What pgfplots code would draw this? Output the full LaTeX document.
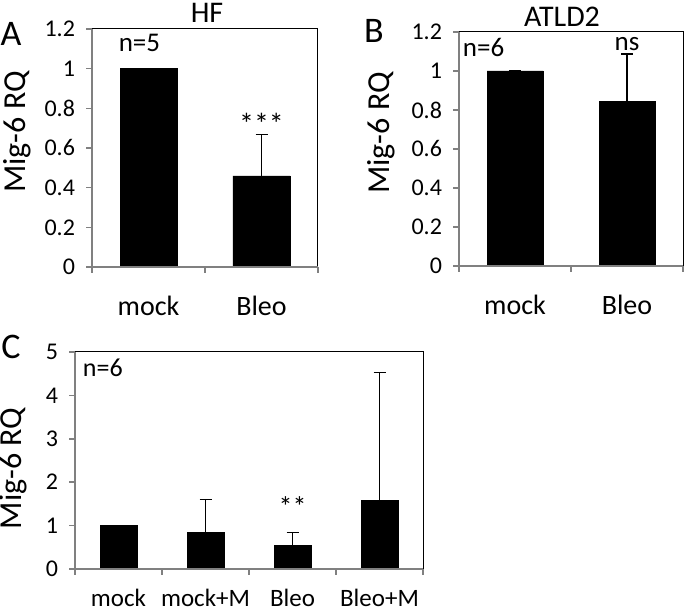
\documentclass[border=0pt]{standalone}
\usepackage{pgfplots}
\pgfplotsset{compat=1.18}
\usepackage{fontspec}
\setmainfont{Carlito}
\definecolor{axgray}{HTML}{808080}
\begin{document}
\begin{tikzpicture}
\useasboundingbox (0,0) rectangle (342.5pt,304pt);
\pgfplotsset{
  panel/.style={
    scale only axis,
    axis line style={black, line width=0.5pt},
    ymin=0,
    ybar, bar shift=0pt,
    tick align=outside,
    xtick pos=bottom, ytick pos=left,
    major tick length=3pt,
    tick style={axgray, line width=0.8pt},
    /pgf/number format/assume math mode=true,
    yticklabel style={font=\fontsize{12}{14}\selectfont, xshift=-2pt},
    extra x tick style={major tick length=0pt, tick style={draw=none}},
    ylabel=Mig-6 RQ,
    ylabel style={font=\fontsize{16}{18}\selectfont, at={(rel axis cs:0,0.5)}, anchor=center},
    error bars/error bar style={black, line width=0.6pt},
    error bars/error mark options={black, line width=0.6pt, mark size=3pt, rotate=90},
    clip=false,
  },
  grayaxes/.style={
    after end axis/.code={
      \draw[axgray, line width=0.9pt] (rel axis cs:0,1) -- (rel axis cs:0,0) -- (rel axis cs:1,0);
    }
  }
}
% Panel A
\begin{axis}[panel, grayaxes, at={(46pt,170.5pt)}, anchor=south west,
  width=113pt, height=119pt,
  ymax=1.2, ytick={0,0.2,0.4,0.6,0.8,1,1.2},
  yticklabels={0,0.2,0.4,0.6,0.8,1,1.2},
  xmin=-0.5, xmax=1.5, xtick={-0.5,0.5,1.5}, xticklabels={,,},
  extra x ticks={0,1}, extra x tick labels={mock,Bleo},
  xticklabel style={font=\fontsize{14}{16}\selectfont, yshift=-11pt},
  bar width=28.5pt,
  ylabel style={yshift=37.5pt, xshift=8pt}]
\addplot[fill=black, draw=black, error bars/.cd, y dir=plus, y explicit]
  coordinates {(0,1) +- (0,0) (1,0.459) +- (0,0.208)};
\node[font=\fontsize{13.5}{15}\selectfont] at (axis cs:-0.08,1.13) {n=5};
\node[font=\fontsize{15}{17}\selectfont] at (axis cs:1,0.72) {***};
\end{axis}
% Panel B
\begin{axis}[panel, grayaxes, at={(229.5pt,171pt)}, anchor=south west,
  width=112pt, height=117pt,
  ymax=1.2, ytick={0,0.2,0.4,0.6,0.8,1,1.2},
  yticklabels={0,0.2,0.4,0.6,0.8,1,1.2},
  xmin=-0.5, xmax=1.5, xtick={-0.5,0.5,1.5}, xticklabels={,,},
  extra x ticks={0,1}, extra x tick labels={mock,Bleo},
  xticklabel style={font=\fontsize{14}{16}\selectfont, yshift=-11pt},
  bar width=28pt,
  ylabel style={yshift=39pt, xshift=8pt}]
\addplot[fill=black, draw=black, error bars/.cd, y dir=plus, y explicit]
  coordinates {(0,1) +- (0,0.003) (1,0.846) +- (0,0.241)};
\node[font=\fontsize{13.5}{15}\selectfont] at (axis cs:-0.28,1.118) {n=6};
\node[font=\fontsize{13.5}{15}\selectfont] at (axis cs:1,1.14) {ns};
\end{axis}
% Panel C
\begin{axis}[panel, grayaxes, at={(37.5pt,19.5pt)}, anchor=south west,
  width=174pt, height=108.5pt,
  ymax=5, ytick={0,1,2,3,4,5},
  xmin=-0.5, xmax=3.5, xtick={-0.5,0.5,1.5,2.5,3.5}, xticklabels={,,,,},
  extra x ticks={0,1,2,3}, extra x tick labels={mock,mock+M,Bleo,Bleo+M},
  xticklabel style={font=\fontsize{12.5}{14}\selectfont, yshift=-6.5pt},
  bar width=18.5pt,
  ylabel style={yshift=31pt, xshift=-4pt}]
\addplot[fill=black, draw=black, error bars/.cd, y dir=plus, y explicit]
  coordinates {(0,1) +- (0,0) (1,0.85) +- (0,0.76) (2,0.55) +- (0,0.30) (3,1.575) +- (0,2.945)};
\node[font=\fontsize{13}{15}\selectfont] at (axis cs:-0.18,4.63) {n=6};
\node[font=\fontsize{14}{16}\selectfont] at (axis cs:2,1.45) {**};
\end{axis}
\node[font=\fontsize{15}{17}\selectfont] at (103.5pt,297.5pt) {HF};
\node[font=\fontsize{15}{17}\selectfont] at (281pt,295.5pt) {ATLD2};
\node[font=\fontsize{18}{20}\selectfont] at (5.5pt,287pt) {A};
\node[font=\fontsize{18}{20}\selectfont] at (187pt,288.5pt) {B};
\node[font=\fontsize{18}{20}\selectfont] at (5.5pt,130.5pt) {C};
\end{tikzpicture}
\end{document}
